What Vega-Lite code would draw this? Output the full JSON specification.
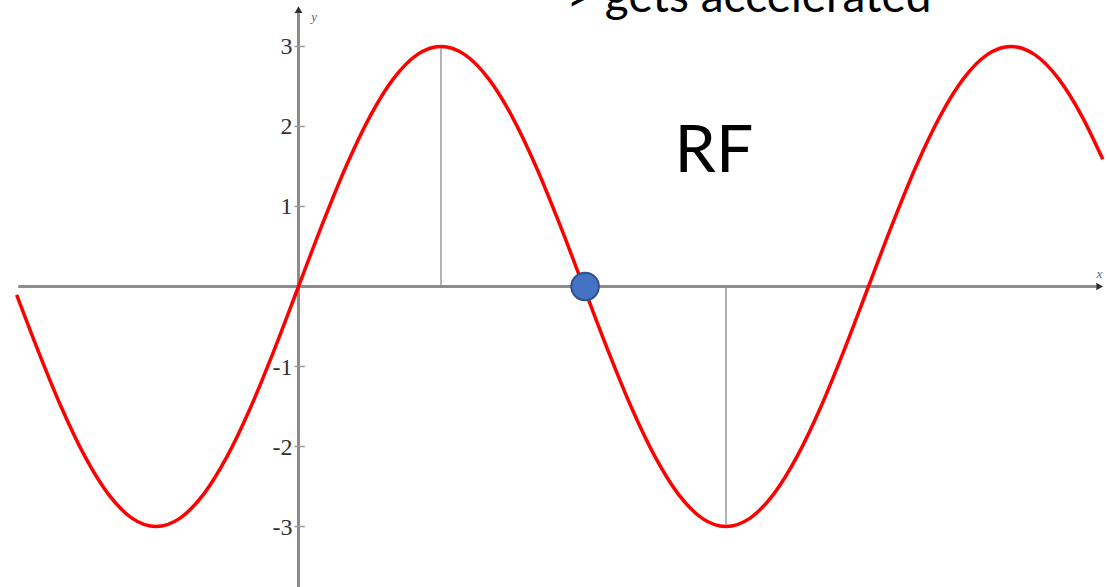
{
  "$schema": "https://vega.github.io/schema/vega-lite/v6.json",
  "width": 1107,
  "height": 587,
  "autosize": "none",
  "padding": 0,
  "background": "white",
  "config": {"view": {"stroke": null}},
  "datasets": {
    "wave": [
      {"deg": -178, "y": -0.105},
      {"deg": -165, "y": -0.776},
      {"deg": -150, "y": -1.5},
      {"deg": -135, "y": -2.121},
      {"deg": -120, "y": -2.598},
      {"deg": -105, "y": -2.898},
      {"deg": -90, "y": -3},
      {"deg": -75, "y": -2.898},
      {"deg": -60, "y": -2.598},
      {"deg": -45, "y": -2.121},
      {"deg": -30, "y": -1.5},
      {"deg": -15, "y": -0.776},
      {"deg": 0, "y": 0},
      {"deg": 15, "y": 0.776},
      {"deg": 30, "y": 1.5},
      {"deg": 45, "y": 2.121},
      {"deg": 60, "y": 2.598},
      {"deg": 75, "y": 2.898},
      {"deg": 90, "y": 3},
      {"deg": 105, "y": 2.898},
      {"deg": 120, "y": 2.598},
      {"deg": 135, "y": 2.121},
      {"deg": 150, "y": 1.5},
      {"deg": 165, "y": 0.776},
      {"deg": 180, "y": 0},
      {"deg": 195, "y": -0.776},
      {"deg": 210, "y": -1.5},
      {"deg": 225, "y": -2.121},
      {"deg": 240, "y": -2.598},
      {"deg": 255, "y": -2.898},
      {"deg": 270, "y": -3},
      {"deg": 285, "y": -2.898},
      {"deg": 300, "y": -2.598},
      {"deg": 315, "y": -2.121},
      {"deg": 330, "y": -1.5},
      {"deg": 345, "y": -0.776},
      {"deg": 360, "y": 0},
      {"deg": 375, "y": 0.776},
      {"deg": 390, "y": 1.5},
      {"deg": 405, "y": 2.121},
      {"deg": 420, "y": 2.598},
      {"deg": 435, "y": 2.898},
      {"deg": 450, "y": 3},
      {"deg": 465, "y": 2.898},
      {"deg": 480, "y": 2.598},
      {"deg": 495, "y": 2.121},
      {"deg": 508, "y": 1.59}
    ],
    "ticks": [
      {"v": -3, "label": "-3", "a": -2.5, "b": 4},
      {"v": -2, "label": "-2", "a": -2.5, "b": 4},
      {"v": -1, "label": "-1", "a": -2.5, "b": 4},
      {"v": 1, "label": "1", "a": -2.5, "b": 4},
      {"v": 2, "label": "2", "a": -2.5, "b": 4},
      {"v": 3, "label": "3", "a": -2.5, "b": 4}
    ],
    "extrema": [{"deg": 90, "y0": 0, "y": 3}, {"deg": 270, "y0": 0, "y": -3}],
    "axes": [
      {"axis": "x", "x1": -177, "x2": 504, "y1": 0, "y2": 0},
      {"axis": "y", "x1": 0, "x2": 0, "y1": -3.756, "y2": 3.42}
    ],
    "notes": [
      {"label": "RF", "deg": 262.4, "y": 1.435},
      {"label": "> gets accelerated", "deg": 284.5, "y": 3.43}
    ]
  },
  "layer": [
    {
      "data": {"name": "extrema"},
      "mark": {"type": "rule", "color": "#b3b3b3", "strokeWidth": 2},
      "encoding": {
        "x": {"field": "deg", "type": "quantitative", "scale": {"domain": [-188.53, 510.64], "nice": false, "zero": false}, "axis": null},
        "y": {"field": "y0", "type": "quantitative", "scale": {"domain": [-3.756, 3.581], "nice": false, "zero": false}, "axis": null},
        "y2": {"field": "y"}
      }
    },
    {
      "data": {"name": "axes"},
      "mark": {"type": "rule", "color": "#8c8c8c", "strokeWidth": 3},
      "encoding": {
        "x": {"field": "x1", "type": "quantitative", "scale": {"domain": [-188.53, 510.64], "nice": false, "zero": false}, "axis": null},
        "x2": {"field": "x2"},
        "y": {"field": "y1", "type": "quantitative", "scale": {"domain": [-3.756, 3.581], "nice": false, "zero": false}, "axis": null},
        "y2": {"field": "y2"}
      }
    },
    {
      "data": {"name": "ticks"},
      "mark": {"type": "rule", "color": "#9a9a9a", "strokeWidth": 1.5},
      "encoding": {
        "x": {"field": "a", "type": "quantitative", "scale": {"domain": [-188.53, 510.64], "nice": false, "zero": false}, "axis": null},
        "x2": {"field": "b"},
        "y": {"field": "v", "type": "quantitative", "scale": {"domain": [-3.756, 3.581], "nice": false, "zero": false}, "axis": null}
      }
    },
    {
      "data": {"name": "ticks"},
      "mark": {"type": "text", "align": "right", "baseline": "middle", "dx": -2, "dy": 1, "font": "Liberation Serif", "fontSize": 24, "color": "#333333"},
      "encoding": {
        "x": {"field": "a", "type": "quantitative", "scale": {"domain": [-188.53, 510.64], "nice": false, "zero": false}, "axis": null},
        "y": {"field": "v", "type": "quantitative", "scale": {"domain": [-3.756, 3.581], "nice": false, "zero": false}, "axis": null},
        "text": {"field": "label", "type": "nominal"}
      }
    },
    {
      "data": {"values": [{"dir": "triangle-right", "deg": 506, "y": 0}, {"dir": "triangle-up", "deg": 0, "y": 3.46}]},
      "mark": {"type": "point", "filled": true, "color": "#2e2e2e", "size": 60, "opacity": 1},
      "encoding": {
        "x": {"field": "deg", "type": "quantitative", "scale": {"domain": [-188.53, 510.64], "nice": false, "zero": false}, "axis": null},
        "y": {"field": "y", "type": "quantitative", "scale": {"domain": [-3.756, 3.581], "nice": false, "zero": false}, "axis": null},
        "shape": {"field": "dir", "type": "nominal", "scale": null, "legend": null}
      }
    },
    {
      "data": {"values": [{"name": "y", "deg": 8, "y": 3.37}, {"name": "x", "deg": 504, "y": 0.16}]},
      "mark": {"type": "text", "align": "left", "baseline": "middle", "font": "Liberation Serif", "fontStyle": "italic", "fontSize": 13, "color": "#4f6089"},
      "encoding": {
        "x": {"field": "deg", "type": "quantitative", "scale": {"domain": [-188.53, 510.64], "nice": false, "zero": false}, "axis": null},
        "y": {"field": "y", "type": "quantitative", "scale": {"domain": [-3.756, 3.581], "nice": false, "zero": false}, "axis": null},
        "text": {"field": "name", "type": "nominal"}
      }
    },
    {
      "data": {"name": "wave"},
      "mark": {"type": "line", "color": "#ff0000", "strokeWidth": 3.5, "interpolate": "monotone"},
      "encoding": {
        "x": {"field": "deg", "type": "quantitative", "scale": {"domain": [-188.53, 510.64], "nice": false, "zero": false}, "axis": null},
        "y": {"field": "y", "type": "quantitative", "scale": {"domain": [-3.756, 3.581], "nice": false, "zero": false}, "axis": null}
      }
    },
    {
      "data": {"values": [{"deg": 181, "y": 0}]},
      "mark": {"type": "point", "shape": "circle", "filled": true, "size": 760, "fill": "#4472c4", "stroke": "#2f528f", "strokeWidth": 2, "opacity": 1},
      "encoding": {
        "x": {"field": "deg", "type": "quantitative", "scale": {"domain": [-188.53, 510.64], "nice": false, "zero": false}, "axis": null},
        "y": {"field": "y", "type": "quantitative", "scale": {"domain": [-3.756, 3.581], "nice": false, "zero": false}, "axis": null}
      }
    },
    {
      "data": {"name": "notes"},
      "mark": {"type": "text", "align": "center", "baseline": "alphabetic", "font": "Lato", "color": "#000000", "clip": true},
      "encoding": {
        "x": {"field": "deg", "type": "quantitative", "scale": {"domain": [-188.53, 510.64], "nice": false, "zero": false}, "axis": null},
        "y": {"field": "y", "type": "quantitative", "scale": {"domain": [-3.756, 3.581], "nice": false, "zero": false}, "axis": null},
        "text": {"field": "label", "type": "nominal"},
        "size": {"field": "label", "type": "nominal", "scale": {"domain": ["RF", "> gets accelerated"], "range": [66, 46]}, "legend": null}
      }
    }
  ]
}
